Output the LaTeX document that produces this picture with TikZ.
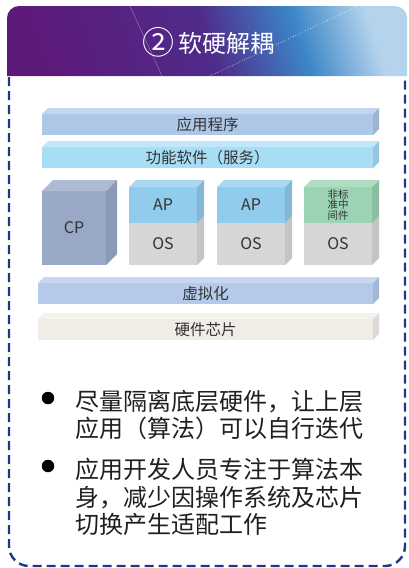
\documentclass[tikz,border=0pt]{standalone}
\usepackage{fontspec}
\setmainfont{Noto Sans CJK SC}
\definecolor{hA}{HTML}{5D1A7B}
\definecolor{hB}{HTML}{4F2B8A}
\definecolor{hC}{HTML}{3C86C7}
\definecolor{hD}{HTML}{B4D3EC}
\definecolor{frameblue}{HTML}{1F3A80}
\definecolor{txt}{HTML}{333333}
\definecolor{appF}{HTML}{ADC8E6}\definecolor{appT}{HTML}{C2D6EE}\definecolor{appS}{HTML}{9DB5D3}
\definecolor{funF}{HTML}{A8DDF6}\definecolor{funT}{HTML}{C0E7FA}\definecolor{funS}{HTML}{95C8E0}
\definecolor{cpF}{HTML}{99A8C6}\definecolor{cpT}{HTML}{AEBAD4}\definecolor{cpS}{HTML}{8D9AB6}
\definecolor{apF}{HTML}{92CCEC}\definecolor{apT}{HTML}{AAD8F1}\definecolor{apS}{HTML}{84B7D3}
\definecolor{osF}{HTML}{D6D6D6}\definecolor{osT}{HTML}{E2E2E2}\definecolor{osS}{HTML}{C4C4C4}
\definecolor{grF}{HTML}{9CD3B4}\definecolor{grT}{HTML}{AEDDC2}\definecolor{grS}{HTML}{8CBFA2}
\definecolor{virF}{HTML}{B4CAE8}\definecolor{virT}{HTML}{C6D8EF}\definecolor{virS}{HTML}{A3B8D8}
\definecolor{hwF}{HTML}{EFEDE6}\definecolor{hwT}{HTML}{F4F2ED}\definecolor{hwS}{HTML}{DCDAD2}
\pgfdeclarehorizontalshading{hdrshade}{100bp}{color(0bp)=(hA); color(25bp)=(hA); color(50bp)=(hB); color(64bp)=(hC); color(75bp)=(hD); color(100bp)=(hD)}
\tikzset{
  blockface/.style={inner sep=0pt, outer sep=0pt, text=txt},
  bullettext/.style={anchor=base west, inner sep=0pt, text=black!88, font=\fontsize{24}{27}\selectfont},
  dot/.style={circle, fill=black, minimum size=12.5pt, inner sep=0pt}
}
% name, x1, y1, x2, y2, depth, colour prefix, font size, text
\newcommand\blk[9]{%
  \node[blockface, fill=#7F, minimum width={(#4-#2)*1pt}, minimum height={(#5-#3)*1pt},
        font=\fontsize{#8}{#8}\selectfont, align=center] (#1) at ({(#2+#4)/2},{(#3+#5)/2}) {#9};
  \fill[#7T] (#1.north west) -- ++(#6,-#6) -- ([shift={(#6,-#6)}]#1.north east) -- (#1.north east) -- cycle;
  \fill[#7S] (#1.north east) -- ([shift={(#6,-#6)}]#1.north east) -- ([shift={(#6,-#6)}]#1.south east) -- (#1.south east) -- cycle;
}
\begin{document}
\begin{tikzpicture}[x=1pt,y=-1pt]
\useasboundingbox (0,0) rectangle (408,568);
% header
\shade[shading=hdrshade, shading angle=18] (7,76) [rounded corners=12pt] -- (7,6) -- (407,6) [sharp corners] -- (407,76) -- cycle;
\draw[white, opacity=0.35, line width=0.5pt] (130,6) -- (162,76);
\draw[white, opacity=0.8, line width=0.7pt, dotted] (210,76) -- (358,6);
\node[text=white, font=\fontsize{24}{24}\selectfont, anchor=base, inner sep=0pt] (title) at (208,52) {\raisebox{-2.6pt}{\fontsize{32}{32}\selectfont ②}\,软硬解耦};
% dashed frame
\draw[frameblue, line width=2.4pt, dash pattern=on 9pt off 5pt, rounded corners=20pt] (9,77) -- (9,566) -- (405,566) -- (405,77);
% stack
\blk{app}{42}{114}{373}{135}{6}{app}{15.5}{应用程序}
\blk{fun}{42}{147}{373}{168}{6}{fun}{15.5}{功能软件（服务）}
\blk{cp}{42}{191}{106}{265}{11}{cp}{16}{CP}
\blk{os1}{129}{223}{197}{265}{7}{os}{16}{OS}
\blk{ap1}{129}{187}{197}{223}{7}{ap}{16}{AP}
\blk{os2}{217}{223}{285}{265}{7}{os}{16}{OS}
\blk{ap2}{217}{187}{285}{223}{7}{ap}{16}{AP}
\blk{os3}{304}{223}{372}{265}{7}{os}{16}{OS}
\blk{mw}{304}{187}{372}{223}{7}{gr}{10.5}{\fontsize{10.5}{12}\selectfont 非标\\准中\\间件}
\blk{vir}{38}{283}{373}{304}{6}{vir}{15.5}{虚拟化}
\blk{hw}{38}{319}{373}{340}{6}{hw}{15.5}{硬件芯片}
% bullets
\node[dot] (d1) at (48,398) {};
\node[bullettext] (l1) at (75,410.5) {尽量隔离底层硬件，让上层};
\node[bullettext] (l2) at (75,437.5) {应用（算法）可以自行迭代};
\node[dot] (d2) at (48,466) {};
\node[bullettext] (l3) at (75,478.5) {应用开发人员专注于算法本};
\node[bullettext] (l4) at (75,506) {身，减少因操作系统及芯片};
\node[bullettext] (l5) at (75,533.5) {切换产生适配工作};
\end{tikzpicture}
\end{document}
